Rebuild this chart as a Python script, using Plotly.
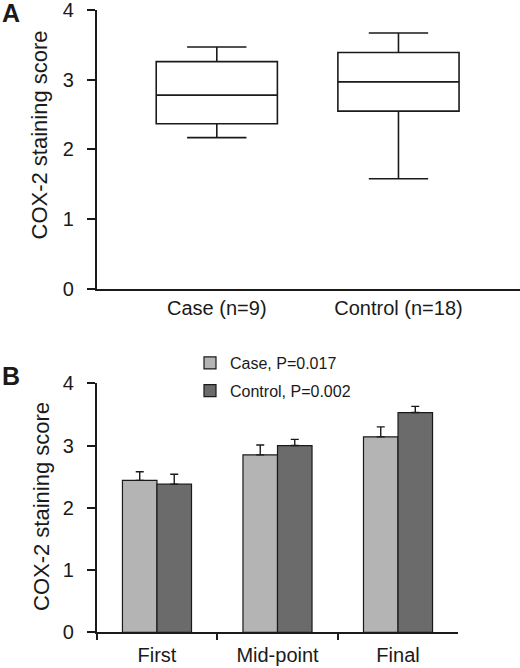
import plotly.graph_objects as go

# panel A - box plot summary values
groups = ["Case (n=9)", "Control (n=18)"]
lower = [2.17, 1.58]
q1 = [2.37, 2.55]
median = [2.78, 2.97]
q3 = [3.26, 3.39]
upper = [3.47, 3.67]

# panel B - mean scores with error bars
visits = ["First", "Mid-point", "Final"]
case_mean = [2.44, 2.85, 3.14]
case_err = [0.14, 0.16, 0.16]
control_mean = [2.38, 3.00, 3.53]
control_err = [0.16, 0.10, 0.10]
case_name = "Case, P=0.017"
control_name = "Control, P=0.002"

yticks = [0, 1, 2, 3, 4]

font = "Liberation Sans, Arial, sans-serif"
ink = "#1a1a1a"

fig = go.Figure()

fig.add_trace(go.Box(
    x=groups, q1=q1, median=median, q3=q3,
    lowerfence=lower, upperfence=upper,
    width=0.667, whiskerwidth=0.49,
    fillcolor="white", line=dict(color=ink, width=1.6),
    boxpoints=False, showlegend=False, hoverinfo="skip",
    xaxis="x", yaxis="y",
))

fig.add_trace(go.Bar(
    x=visits, y=case_mean, name=case_name,
    marker=dict(color="#b4b4b4", line=dict(color=ink, width=1.2)),
    error_y=dict(type="data", array=case_err, symmetric=False,
                 arrayminus=[0, 0, 0], color=ink, thickness=1.4, width=4),
    xaxis="x2", yaxis="y2", legendgroup="a",
))
fig.add_trace(go.Bar(
    x=visits, y=control_mean, name=control_name,
    marker=dict(color="#6b6b6b", line=dict(color=ink, width=1.2)),
    error_y=dict(type="data", array=control_err, symmetric=False,
                 arrayminus=[0, 0, 0], color=ink, thickness=1.4, width=4),
    xaxis="x2", yaxis="y2", legendgroup="b",
))

yax = dict(range=[0, 4], tickvals=yticks, showline=True, linecolor=ink,
           linewidth=1.5, ticks="outside", ticklen=8, tickcolor=ink,
           tickwidth=1.5, showgrid=False, zeroline=False, automargin=False,
           ticklabeloverflow="allow",
           ticklabelstandoff=9, tickfont=dict(size=20, color=ink))

fig.update_layout(
    template="none",
    width=520, height=668,
    margin=dict(l=0, r=0, t=0, b=0),
    paper_bgcolor="white", plot_bgcolor="white",
    font=dict(family=font, color=ink),
    barmode="group", bargap=0.427, bargroupgap=0,
    xaxis=dict(domain=[0.186, 1.0], range=[-0.661, 1.669], anchor="y",
               showline=True, linecolor=ink, linewidth=1.5, ticks="",
               ticklen=0, showgrid=False, zeroline=False, automargin=False,
               ticklabelstandoff=0, tickfont=dict(size=20, color=ink)),
    yaxis=dict(domain=[0.5674, 1 - 10 / 668], anchor="x", **yax),
    xaxis2=dict(domain=[0.186, 0.8813], range=[-0.5, 2.5], anchor="y2",
                showline=True, linecolor=ink, linewidth=1.5,
                ticks="outside", tickson="boundaries", ticklen=6,
                tickcolor=ink, tickwidth=1.5, showgrid=False,
                zeroline=False, automargin=False, ticklabeloverflow="allow",
                ticklabelstandoff=4, tickfont=dict(size=20, color=ink)),
    yaxis2=dict(domain=[0.0534, 0.4262], anchor="x2", **yax),
    legend=dict(x=190 / 520, y=1 - 346 / 668, xanchor="left", yanchor="top",
                font=dict(size=16, color=ink), bgcolor="rgba(0,0,0,0)",
                traceorder="grouped", tracegroupgap=4),
    annotations=[
        dict(text="<b>A</b>", x=0.0, y=1 - 13 / 668, xref="paper", yref="paper",
             xanchor="left", yanchor="middle", showarrow=False,
             font=dict(size=25, color=ink)),
        dict(text="<b>B</b>", x=0.0, y=1 - 376 / 668, xref="paper", yref="paper",
             xanchor="left", yanchor="middle", showarrow=False,
             font=dict(size=25, color=ink)),
        dict(text="COX-2 staining score", x=39 / 520, y=1 - 135.5 / 668,
             xref="paper", yref="paper", textangle=-90, showarrow=False,
             xanchor="center", yanchor="middle", font=dict(size=22, color=ink)),
        dict(text="COX-2 staining score", x=41 / 520, y=1 - 507 / 668,
             xref="paper", yref="paper", textangle=-90, showarrow=False,
             xanchor="center", yanchor="middle", font=dict(size=22, color=ink)),
    ],
)

fig.write_html("out.html", config={"displayModeBar": False},
               post_script="document.body.style.margin='0';")
